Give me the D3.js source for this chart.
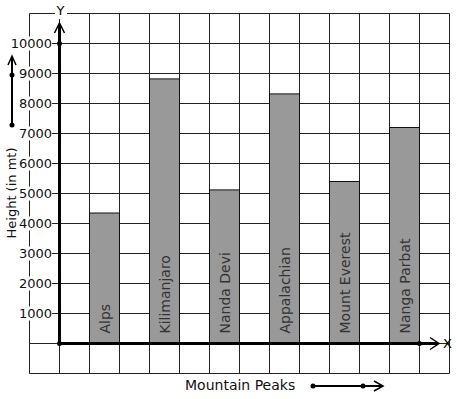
<!DOCTYPE html>
<html>
<head>
<meta charset="utf-8">
<script src="https://cdn.jsdelivr.net/npm/d3@7"></script>
<style>
  body { margin: 0; background: #fff; }
  svg text { font-family: "DejaVu Sans", sans-serif; }
</style>
</head>
<body>
<div id="chart"></div>
<script>
// data
const peaks = ["Alps", "Kilimanjaro", "Nanda Devi", "Appalachian", "Mount Everest", "Nanga Parbat"];
const heights = [4350, 8820, 5120, 8320, 5400, 7200];
const yTicks = [1000, 2000, 3000, 4000, 5000, 6000, 7000, 8000, 9000, 10000];

const width = 457, height = 399;
const svg = d3.select("#chart").append("svg").attr("width", width).attr("height", height);

// one grid cell = 30px; grid columns -1..13, rows -1000..11000
const gx = d3.scaleLinear().domain([-1, 13]).range([29.5, 449.5]);
const y = d3.scaleLinear().domain([-1000, 11000]).range([373.5, 13.5]);
const x = d3.scaleBand().domain(peaks).range([gx(1), gx(12)]).paddingInner(0.5).paddingOuter(0);

const grid = svg.append("g").attr("stroke", "#222").attr("stroke-width", 1);
grid.selectAll("line.v").data(d3.range(-1, 14)).join("line").attr("class", "v")
  .attr("x1", d => gx(d)).attr("x2", d => gx(d)).attr("y1", y(11000)).attr("y2", y(-1000));
grid.selectAll("line.h").data(d3.range(-1000, 11001, 1000)).join("line").attr("class", "h")
  .attr("y1", d => y(d)).attr("y2", d => y(d)).attr("x1", gx(-1)).attr("x2", gx(13));

// bars
svg.append("g").selectAll("rect").data(peaks).join("rect")
  .attr("x", d => x(d)).attr("width", x.bandwidth())
  .attr("y", (d, i) => y(heights[i])).attr("height", (d, i) => y(0) - y(heights[i]))
  .attr("fill", "#999").attr("stroke", "#111").attr("stroke-width", 1);

svg.append("g").selectAll("text").data(peaks).join("text")
  .attr("transform", d => `translate(${x(d) + x.bandwidth() / 2 + 5},${y(0) - 10}) rotate(-90)`)
  .attr("font-size", 14).attr("fill", "#333").text(d => d);

// y tick labels with white backing
const yt = svg.append("g");
yt.selectAll("rect").data(yTicks).join("rect")
  .attr("x", d => 52 - (String(d).length * 8.3)).attr("y", d => y(d) - 7)
  .attr("width", d => String(d).length * 8.3).attr("height", 14).attr("fill", "#fff");
yt.selectAll("line").data(yTicks).join("line")
  .attr("x1", 53).attr("x2", gx(0)).attr("y1", d => y(d)).attr("y2", d => y(d))
  .attr("stroke", "#222");
yt.selectAll("text").data(yTicks).join("text")
  .attr("x", 52).attr("y", d => y(d)).attr("dy", "0.36em").attr("text-anchor", "end")
  .attr("font-size", 13).attr("fill", "#111").text(d => d);

// axes
const ax = svg.append("g").attr("stroke", "#000").attr("fill", "none");
ax.append("line").attr("x1", gx(0)).attr("x2", 438).attr("y1", y(0)).attr("y2", y(0)).attr("stroke-width", 3);
ax.append("path").attr("d", `M430,${y(0) - 6}L439,${y(0)}L430,${y(0) + 6}`).attr("stroke-width", 1.5);
ax.append("line").attr("x1", gx(0)).attr("x2", gx(0)).attr("y1", y(0)).attr("y2", 24).attr("stroke-width", 3);
ax.append("path").attr("d", `M${gx(0) - 5},33L${gx(0)},23L${gx(0) + 5},33`).attr("stroke-width", 1.5);
svg.selectAll("circle.ax").data([[gx(0), y(0)], [gx(0), y(10000)], [gx(12), y(0)]]).join("circle")
  .attr("class", "ax").attr("cx", d => d[0]).attr("cy", d => d[1]).attr("r", 2.5).attr("fill", "#000");

svg.append("rect").attr("x", 55).attr("y", 4).attr("width", 12).attr("height", 15).attr("fill", "#fff");
svg.append("text").attr("x", gx(0) + 1).attr("y", 15).attr("text-anchor", "middle")
  .attr("font-size", 13).text("Y");
svg.append("text").attr("x", 443).attr("y", y(0)).attr("dy", "0.36em")
  .attr("font-size", 13).text("X");

// axis titles with arrows
svg.append("text").attr("transform", "translate(16,193) rotate(-90)").attr("text-anchor", "middle")
  .attr("font-size", 13).attr("fill", "#111").text("Height (in mt)");
svg.append("line").attr("x1", 12).attr("x2", 12).attr("y1", 125).attr("y2", 57).attr("stroke", "#000").attr("stroke-width", 2);
svg.append("path").attr("d", "M8,65L12,56L16,65").attr("stroke", "#000").attr("stroke-width", 1.5).attr("fill", "none");
svg.selectAll("circle.l").data([125, 75]).join("circle").attr("class", "l")
  .attr("cx", 12).attr("cy", d => d).attr("r", 2.5).attr("fill", "#000");

svg.append("text").attr("x", 185).attr("y", 390).attr("font-size", 14).attr("fill", "#111").text("Mountain Peaks");
svg.append("line").attr("x1", 313).attr("x2", 382).attr("y1", 386).attr("y2", 386).attr("stroke", "#000").attr("stroke-width", 2);
svg.append("path").attr("d", "M374,381L383,386L374,391").attr("stroke", "#000").attr("stroke-width", 1.5).attr("fill", "none");
svg.selectAll("circle.b").data([313, 363]).join("circle").attr("class", "b")
  .attr("cx", d => d).attr("cy", 386).attr("r", 2.5).attr("fill", "#000");
</script>
</body>
</html>
